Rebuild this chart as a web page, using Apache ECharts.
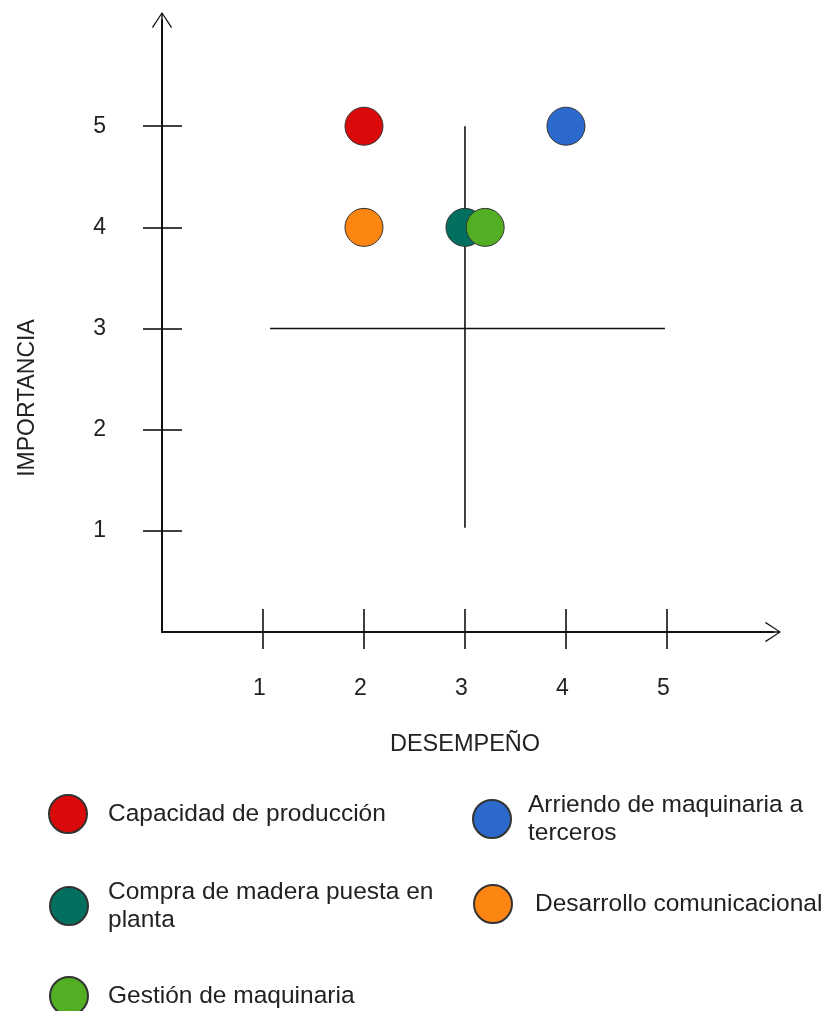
<!DOCTYPE html>
<html>
<head>
<meta charset="utf-8">
<script src="https://cdn.jsdelivr.net/npm/echarts@6/dist/echarts.min.js"></script>
<style>
html,body{margin:0;padding:0;background:#fff;}
#chart{width:833px;height:1011px;}
</style>
</head>
<body>
<div id="chart"></div>
<script>
// ---- data ----
const names = ['Capacidad de producción', 'Arriendo de maquinaria a terceros', 'Compra de madera puesta en planta', 'Desarrollo comunicacional', 'Gestión de maquinaria'];
const legendText = ['Capacidad de producción', 'Arriendo de maquinaria a\nterceros', 'Compra de madera puesta en\nplanta', 'Desarrollo comunicacional', 'Gestión de maquinaria'];
const desempeno = [2, 4, 3, 2, 3.2];
const importancia = [5, 5, 4, 4, 4];
const colors = ['#da0a0a', '#2c69cc', '#03705f', '#fd8613', '#52ae23'];
const tickValues = [1, 2, 3, 4, 5];
const vLine = [[3, 1.03], [3, 5]];
const hLine = [[1.07, 3], [4.98, 3]];
const xName = 'DESEMPEÑO';
const yName = 'IMPORTANCIA';

// ---- styling ----
const FONT = '"Liberation Sans", Arial, sans-serif';
const TXT = '#222';
const AX = '#111';
const arrowPath = 'path://M0,15 L10,0 L20,15 L19,16 L10.7,3 L10.7,16 L9.3,16 L9.3,3 L1,16 Z';
const AXMAX = 6.05;

const chart = echarts.init(document.getElementById('chart'), null, {renderer: 'canvas'});

const series = names.map((n, i) => ({
  name: n,
  type: 'scatter',
  xAxisIndex: 0, yAxisIndex: 0,
  symbol: 'circle',
  symbolSize: 38,
  z: 5,
  itemStyle: {color: colors[i], borderColor: '#333', borderWidth: 1, opacity: 1},
  emphasis: {disabled: true},
  data: [[desempeno[i], importancia[i]]]
}));

series.push({
  type: 'line', xAxisIndex: 0, yAxisIndex: 0, data: vLine, symbol: 'none', z: 1,
  lineStyle: {color: AX, width: 1.6}, silent: true, animation: false
});
series.push({
  type: 'line', xAxisIndex: 0, yAxisIndex: 0, data: hLine, symbol: 'none', z: 1,
  lineStyle: {color: AX, width: 1.6}, silent: true, animation: false
});

// legend layout: [left, top, textPadLeft]
const legendLayout = [
  [48, 794, 16],
  [472, 791, 12],
  [49, 878, 15],
  [473, 884, 18],
  [49, 976, 15]
];

const legends = names.map((n, i) => ({
  data: [n],
  left: legendLayout[i][0],
  top: legendLayout[i][1],
  padding: 0,
  orient: 'vertical',
  icon: 'circle',
  itemWidth: 38,
  itemHeight: 38,
  selectedMode: false,
  formatter: (name) => legendText[names.indexOf(name)],
  textStyle: {fontFamily: FONT, fontSize: 24.5, lineHeight: 28, color: TXT, padding: [0, 0, 0, legendLayout[i][2]]}
}));

const option = {
  animation: false,
  backgroundColor: '#fff',
  grid: {left: 162, right: 60, top: 20, bottom: 379, containLabel: false},
  legend: legends,
  xAxis: [
    {
      type: 'value', min: 0, max: AXMAX, interval: 1, position: 'bottom',
      axisLine: {show: true, onZero: false, symbol: ['none', arrowPath], symbolSize: [20, 16], lineStyle: {color: AX, width: 2}},
      axisTick: {show: true, customValues: tickValues, length: 17, lineStyle: {color: AX, width: 1.6}},
      axisLabel: {show: true, customValues: tickValues, margin: 45, fontFamily: FONT, fontSize: 23, color: TXT, padding: [0, 7, 0, 0]},
      splitLine: {show: false}
    },
    {
      type: 'value', min: 0, max: AXMAX, interval: 1, position: 'bottom', gridIndex: 0,
      axisLine: {show: false, onZero: false},
      axisTick: {show: true, inside: true, customValues: tickValues, length: 23, lineStyle: {color: AX, width: 1.6}},
      axisLabel: {show: false},
      splitLine: {show: false}
    }
  ],
  yAxis: [
    {
      type: 'value', min: 0, max: AXMAX, interval: 1, position: 'left',
      axisLine: {show: true, onZero: false, symbol: ['none', arrowPath], symbolSize: [20, 16], lineStyle: {color: AX, width: 2}},
      axisTick: {show: true, customValues: tickValues, length: 19, lineStyle: {color: AX, width: 1.6}},
      axisLabel: {show: true, customValues: tickValues, margin: 56, fontFamily: FONT, fontSize: 23, color: TXT, padding: [0, 0, 10, 0]},
      splitLine: {show: false}
    },
    {
      type: 'value', min: 0, max: AXMAX, interval: 1, position: 'left', gridIndex: 0,
      axisLine: {show: false, onZero: false},
      axisTick: {show: true, inside: true, customValues: tickValues, length: 20, lineStyle: {color: AX, width: 1.6}},
      axisLabel: {show: false},
      splitLine: {show: false}
    }
  ],
  graphic: [
    {type: 'text', x: 465, y: 745, style: {text: xName, font: '23.5px ' + FONT, fill: TXT, align: 'center', verticalAlign: 'middle'}},
    {type: 'text', x: 28, y: 398, rotation: Math.PI / 2, style: {text: yName, font: '23px ' + FONT, fill: TXT, align: 'center', verticalAlign: 'middle'}}
  ],
  series: series
};

chart.setOption(option);
</script>
</body>
</html>
